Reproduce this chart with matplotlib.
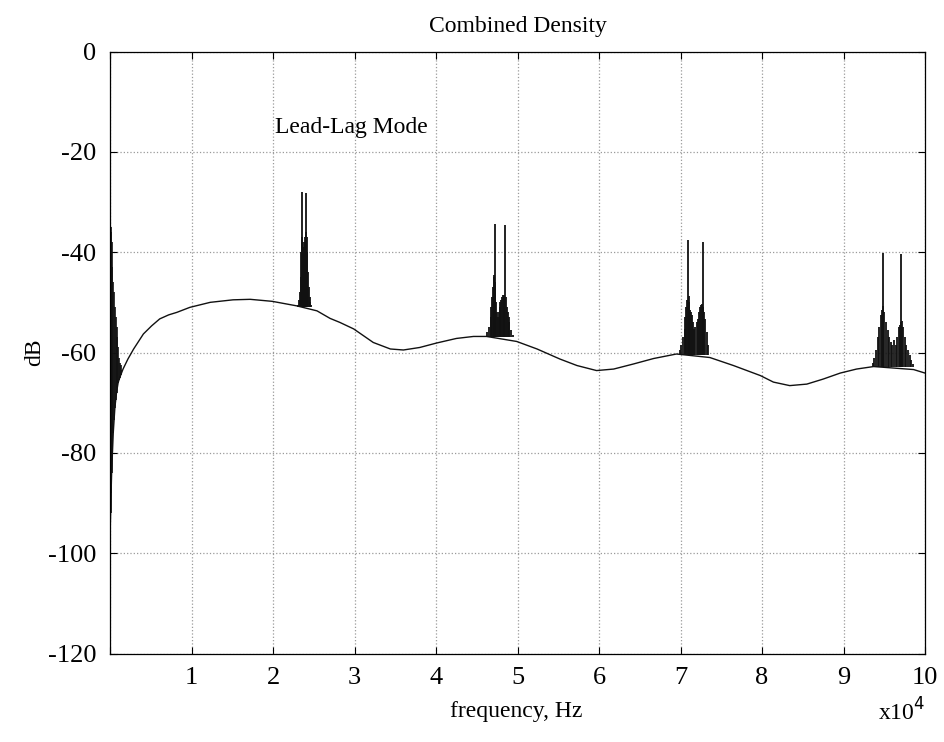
import matplotlib
matplotlib.use("Agg")
import matplotlib.pyplot as plt

plt.rcParams['font.family'] = ['Liberation Serif', 'DejaVu Serif']
plt.rcParams['axes.unicode_minus'] = False

# Smooth background spectrum (frequency in units of 1e4 Hz, level in dB)
base_freq = [0.0, 0.01, 0.02, 0.04, 0.06, 0.08, 0.10, 0.12, 0.16, 0.22, 0.29, 0.41,
             0.51, 0.61, 0.72, 0.82, 0.98, 1.23, 1.51, 1.72, 1.99, 2.29, 2.54, 2.70,
             2.82, 2.99, 3.23, 3.44, 3.60, 3.80, 4.01, 4.25, 4.46, 4.62, 4.99, 5.24,
             5.52, 5.73, 5.97, 6.18, 6.42, 6.67, 6.95, 7.36, 7.65, 7.98, 8.14, 8.34,
             8.55, 8.75, 8.96, 9.16, 9.37, 9.86, 10.0]
base_db = [-97, -90, -84, -76, -71, -68, -66, -65, -63.3, -61.3, -59.3, -56.3,
           -54.7, -53.3, -52.5, -52.0, -51.0, -50.0, -49.5, -49.4, -49.8, -50.7, -51.7, -53.2,
           -54.0, -55.3, -58.0, -59.3, -59.5, -59.0, -58.1, -57.2, -56.8, -56.8, -57.8, -59.3,
           -61.3, -62.6, -63.6, -63.3, -62.3, -61.2, -60.3, -61.0, -62.6, -64.6, -65.9, -66.6,
           -66.3, -65.3, -64.1, -63.3, -62.8, -63.4, -64.1]

# Low-frequency spike cluster near DC
dc_freq = [0.002, 0.008, 0.014, 0.02, 0.03, 0.04, 0.05, 0.06, 0.07, 0.08, 0.09,
           0.10, 0.11, 0.12, 0.13, 0.14]
dc_peak = [-7, -35, -36, -38, -43, -46, -48, -51, -53, -55, -57,
           -59, -61, -62, -62.5, -63.5]
dc_foot = [-97, -92, -88, -84, -80, -76, -73.5, -71, -69.5, -68, -67,
           -66, -65.5, -65, -64.5, -64.2]

# Harmonic clusters (lead-lag sidebands)
h1_base = -51.0
h1_freq = [2.31, 2.32, 2.33, 2.34, 2.345, 2.35, 2.355, 2.36, 2.365, 2.37, 2.375, 2.38,
           2.385, 2.39, 2.395, 2.40, 2.405, 2.41, 2.415, 2.42, 2.43, 2.44, 2.45, 2.46, 2.47]
h1_peak = [-50.5, -49.5, -48, -45, -40, -28, -38, -37, -39, -41, -43, -40,
           -38, -37, -39, -36, -38, -28.3, -37, -40, -44, -47, -49, -50, -50.5]

h2_base = -56.9
h2_freq = [4.63, 4.65, 4.67, 4.68, 4.69, 4.70, 4.71, 4.715, 4.72, 4.725, 4.73, 4.74,
           4.75, 4.76, 4.77, 4.78, 4.79, 4.80, 4.81, 4.82, 4.83, 4.84, 4.85, 4.86,
           4.87, 4.88, 4.89, 4.90, 4.92, 4.94]
h2_peak = [-56, -55, -53, -51, -49, -47, -45, -44.5, -34.4, -46, -48, -50,
           -52, -53, -52, -51, -50, -49.5, -49, -48.5, -48.5, -49, -34.6, -49,
           -51, -52, -53, -54, -55.5, -56.5]

h3_base = -60.4
h3_freq = [6.99, 7.01, 7.03, 7.05, 7.06, 7.07, 7.08, 7.09, 7.10, 7.11, 7.12, 7.13,
           7.14, 7.15, 7.16, 7.18, 7.20, 7.22, 7.23, 7.24, 7.25, 7.26, 7.27, 7.28,
           7.29, 7.30, 7.32, 7.34]
h3_peak = [-59.5, -58.6, -57, -55.3, -53, -51, -49.5, -37.5, -48.7, -50, -51.5, -52,
           -52.6, -54, -55.3, -55, -54, -53.3, -52, -51, -50.5, -50.3, -38.0, -51,
           -52, -53.3, -56, -58.6]

h4_base = -62.9
h4_freq = [9.36, 9.38, 9.40, 9.42, 9.44, 9.46, 9.47, 9.48, 9.49, 9.50, 9.52, 9.54,
           9.56, 9.58, 9.60, 9.62, 9.64, 9.66, 9.68, 9.69, 9.70, 9.71, 9.72, 9.73,
           9.75, 9.77, 9.79, 9.81, 9.83, 9.85]
h4_peak = [-62, -61, -59.5, -57, -55, -52.5, -51.5, -40.2, -50.7, -52, -54, -55.5,
           -57, -58, -58.5, -57.5, -58.5, -57, -55, -54.5, -54, -40.4, -53.7, -55,
           -57, -58.5, -59.5, -60.5, -61.5, -62.3]

x_ticks = [0, 1, 2, 3, 4, 5, 6, 7, 8, 9, 10]
x_ticklabels = ['', '1', '2', '3', '4', '5', '6', '7', '8', '9', '10']
y_ticks = [-120, -100, -80, -60, -40, -20, 0]

fig = plt.figure(figsize=(9.45, 7.42), dpi=100)
ax = fig.add_axes([110 / 945, 1 - 653.5 / 742, 815 / 945, 602 / 742])

ax.plot(base_freq, base_db, color='#111111', lw=1.0)
ax.vlines(dc_freq, dc_foot, dc_peak, colors='#111111', lw=1.2)
for freq, peak, base in [(h1_freq, h1_peak, h1_base), (h2_freq, h2_peak, h2_base),
                         (h3_freq, h3_peak, h3_base), (h4_freq, h4_peak, h4_base)]:
    ax.vlines(freq, base, peak, colors='#111111', lw=1.3)

ax.set_xlim(0, 10)
ax.set_ylim(-120, 0)
ax.set_xticks(x_ticks)
ax.set_xticklabels(x_ticklabels)
ax.set_yticks(y_ticks)
ax.tick_params(direction='in', length=5, top=True, right=True, labelsize=19, pad=10)
ax.grid(True, linestyle=':', color='#9a9a9a', lw=0.9)
for s in ax.spines.values():
    s.set_linewidth(0.9)

ax.set_title('Combined Density', fontsize=17, pad=14)
ax.set_ylabel('dB', fontsize=17, labelpad=2)
fig.text(516 / 945, 1 - 712 / 742, 'frequency, Hz', fontsize=17, ha='center', va='center')
fig.text(925 / 945, 1 - 712 / 742, r'x10$^4$', fontsize=17, ha='right', va='center')
ax.text(2.02, -15.2, 'Lead-Lag Mode', fontsize=17, ha='left', va='center')

fig.savefig('out.png', dpi=100)
